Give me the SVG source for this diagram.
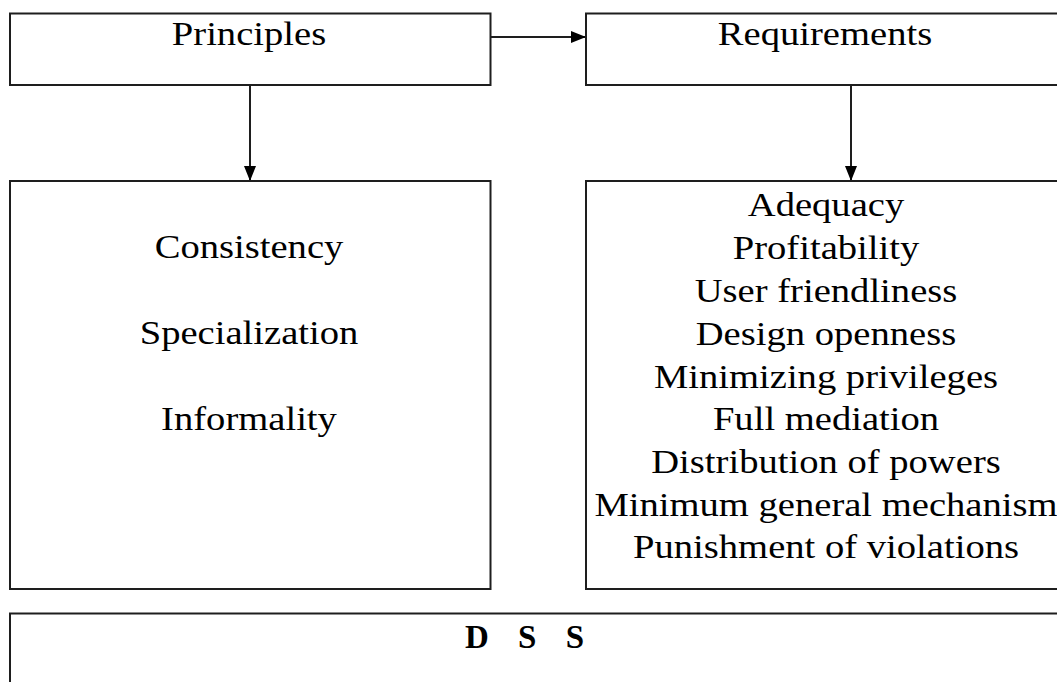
<svg xmlns="http://www.w3.org/2000/svg" width="1057" height="682" viewBox="0 0 1057 682">
  <style>
    .box { fill: #ffffff; stroke: #1e1e1e; stroke-width: 2; }
    .lbl { font-family: "Liberation Serif", "Times New Roman", serif; font-size: 33px; fill: #000000; text-anchor: middle; }
    .bold { font-family: "Liberation Serif", "Times New Roman", serif; font-size: 33px; font-weight: bold; fill: #000000; }
    .conn { fill: none; stroke: #1e1e1e; stroke-width: 2; }
  </style>
  <defs>
    <marker id="arrow" markerUnits="userSpaceOnUse" markerWidth="16" markerHeight="14" refX="15" refY="6" orient="auto">
      <path d="M0,0 L15,6 L0,12 z" fill="#000000"/>
    </marker>
  </defs>

  <rect x="0" y="0" width="1057" height="682" fill="#ffffff"/>

  <!-- connectors -->
  <g id="connectors">
    <line class="conn" x1="491" y1="37" x2="586" y2="37" marker-end="url(#arrow)"/>
    <line class="conn" x1="250" y1="86" x2="250" y2="181" marker-end="url(#arrow)"/>
    <line class="conn" x1="851" y1="86" x2="851" y2="181" marker-end="url(#arrow)"/>
  </g>

  <g id="principles">
    <rect class="box" x="10" y="13.5" width="480.5" height="71.5"/>
    <g transform="translate(249,0) scale(1.17,1)">
      <text class="lbl" x="0" y="45">Principles</text>
    </g>
  </g>

  <g id="requirements">
    <rect class="box" x="586" y="13.5" width="490" height="71.5"/>
    <g transform="translate(825,0) scale(1.17,1)">
      <text class="lbl" x="0" y="45">Requirements</text>
    </g>
  </g>

  <g id="principles-list">
    <rect class="box" x="10" y="181" width="480.5" height="408"/>
    <g transform="translate(249,0) scale(1.17,1)">
      <text class="lbl" x="0" y="258">Consistency</text>
      <text class="lbl" x="0" y="344">Specialization</text>
      <text class="lbl" x="0" y="430">Informality</text>
    </g>
  </g>

  <g id="requirements-list">
    <rect class="box" x="586" y="181" width="490" height="408"/>
    <g transform="translate(826,0) scale(1.17,1)">
      <text class="lbl" x="0" y="216">Adequacy</text>
      <text class="lbl" x="0" y="259">Profitability</text>
      <text class="lbl" x="0" y="302">User friendliness</text>
      <text class="lbl" x="0" y="345">Design openness</text>
      <text class="lbl" x="0" y="388">Minimizing privileges</text>
      <text class="lbl" x="0" y="430">Full mediation</text>
      <text class="lbl" x="0" y="473">Distribution of powers</text>
      <text class="lbl" x="0" y="516">Minimum general mechanism</text>
      <text class="lbl" x="0" y="558">Punishment of violations</text>
    </g>
  </g>

  <g id="dss">
    <rect class="box" x="10" y="613.5" width="1070" height="100"/>
    <text class="bold" x="465" y="648" word-spacing="21">D S S</text>
  </g>
</svg>
